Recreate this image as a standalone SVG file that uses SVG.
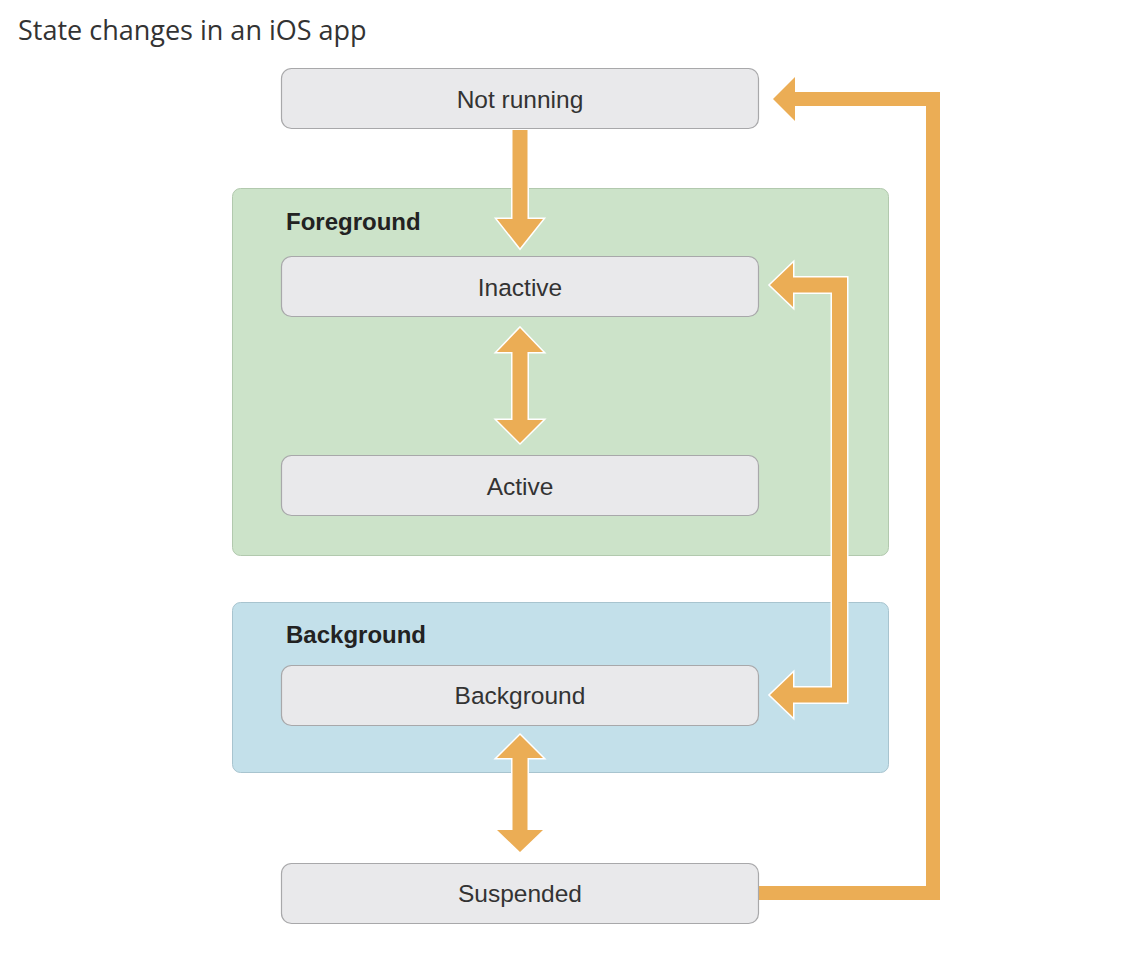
<svg xmlns="http://www.w3.org/2000/svg" width="1136" height="974" viewBox="0 0 1136 974">
<style>
.title{font-family:"Open Sans","Liberation Sans",sans-serif;font-size:27px;fill:#333}
.box{fill:#e9e9eb;stroke:#a8a8aa;stroke-width:1.2}
.lbl{font-family:"Liberation Sans",Arial,sans-serif;font-size:24.5px;fill:#333;text-anchor:middle}
.glbl{font-family:"Liberation Sans",Arial,sans-serif;font-size:24px;font-weight:bold;fill:#222}
.arr{fill:#ebad55;stroke:#fff;stroke-width:3;stroke-linejoin:miter;paint-order:stroke}
.arr2{fill:#ebad55}
</style>
<rect width="1136" height="974" fill="#fff"/>
<text class="title" x="18" y="40">State changes in an iOS app</text>
<g id="foreground">
<rect x="232.5" y="188.5" width="656" height="367" rx="8" fill="#cce3c9" stroke="#b2c9ae"/>
<text class="glbl" x="286" y="230">Foreground</text>
</g>
<g id="background-group">
<rect x="232.5" y="602.5" width="656" height="170" rx="8" fill="#c3e0ea" stroke="#a8c4cf"/>
<text class="glbl" x="286" y="643">Background</text>
</g>
<g id="connectors">
<polygon class="arr" points="512.5,130 527.5,130 527.5,219 543,219 520,248 497,219 512.5,219"/>
<polygon class="arr" points="520,328 543,352 527.5,352 527.5,420 543,420 520,443 497,420 512.5,420 512.5,352 497,352"/>
<polygon class="arr" points="520,735 543,758 527.5,758 527.5,830 543,830 520,852 497,830 512.5,830 512.5,758 497,758"/>
<polygon class="arr" points="770,285 793,263 793,277.5 847,277.5 847,702.5 793,702.5 793,717 770,695 793,673 793,687.5 832,687.5 832,292.5 793,292.5 793,307"/>
<polygon class="arr2" points="773,99 795,77 795,92 940,92 940,900 759,900 759,886 926,886 926,106 795,106 795,121"/>
</g>
<g id="not-running">
<rect class="box" x="281.5" y="68.5" width="477" height="60" rx="10"/>
<text class="lbl" x="520" y="108">Not running</text>
</g>
<g id="inactive">
<rect class="box" x="281.5" y="256.5" width="477" height="60" rx="10"/>
<text class="lbl" x="520" y="296">Inactive</text>
</g>
<g id="active">
<rect class="box" x="281.5" y="455.5" width="477" height="60" rx="10"/>
<text class="lbl" x="520" y="495">Active</text>
</g>
<g id="background">
<rect class="box" x="281.5" y="665.5" width="477" height="60" rx="10"/>
<text class="lbl" x="520" y="704">Background</text>
</g>
<g id="suspended">
<rect class="box" x="281.5" y="863.5" width="477" height="60" rx="10"/>
<text class="lbl" x="520" y="902">Suspended</text>
</g>
</svg>
